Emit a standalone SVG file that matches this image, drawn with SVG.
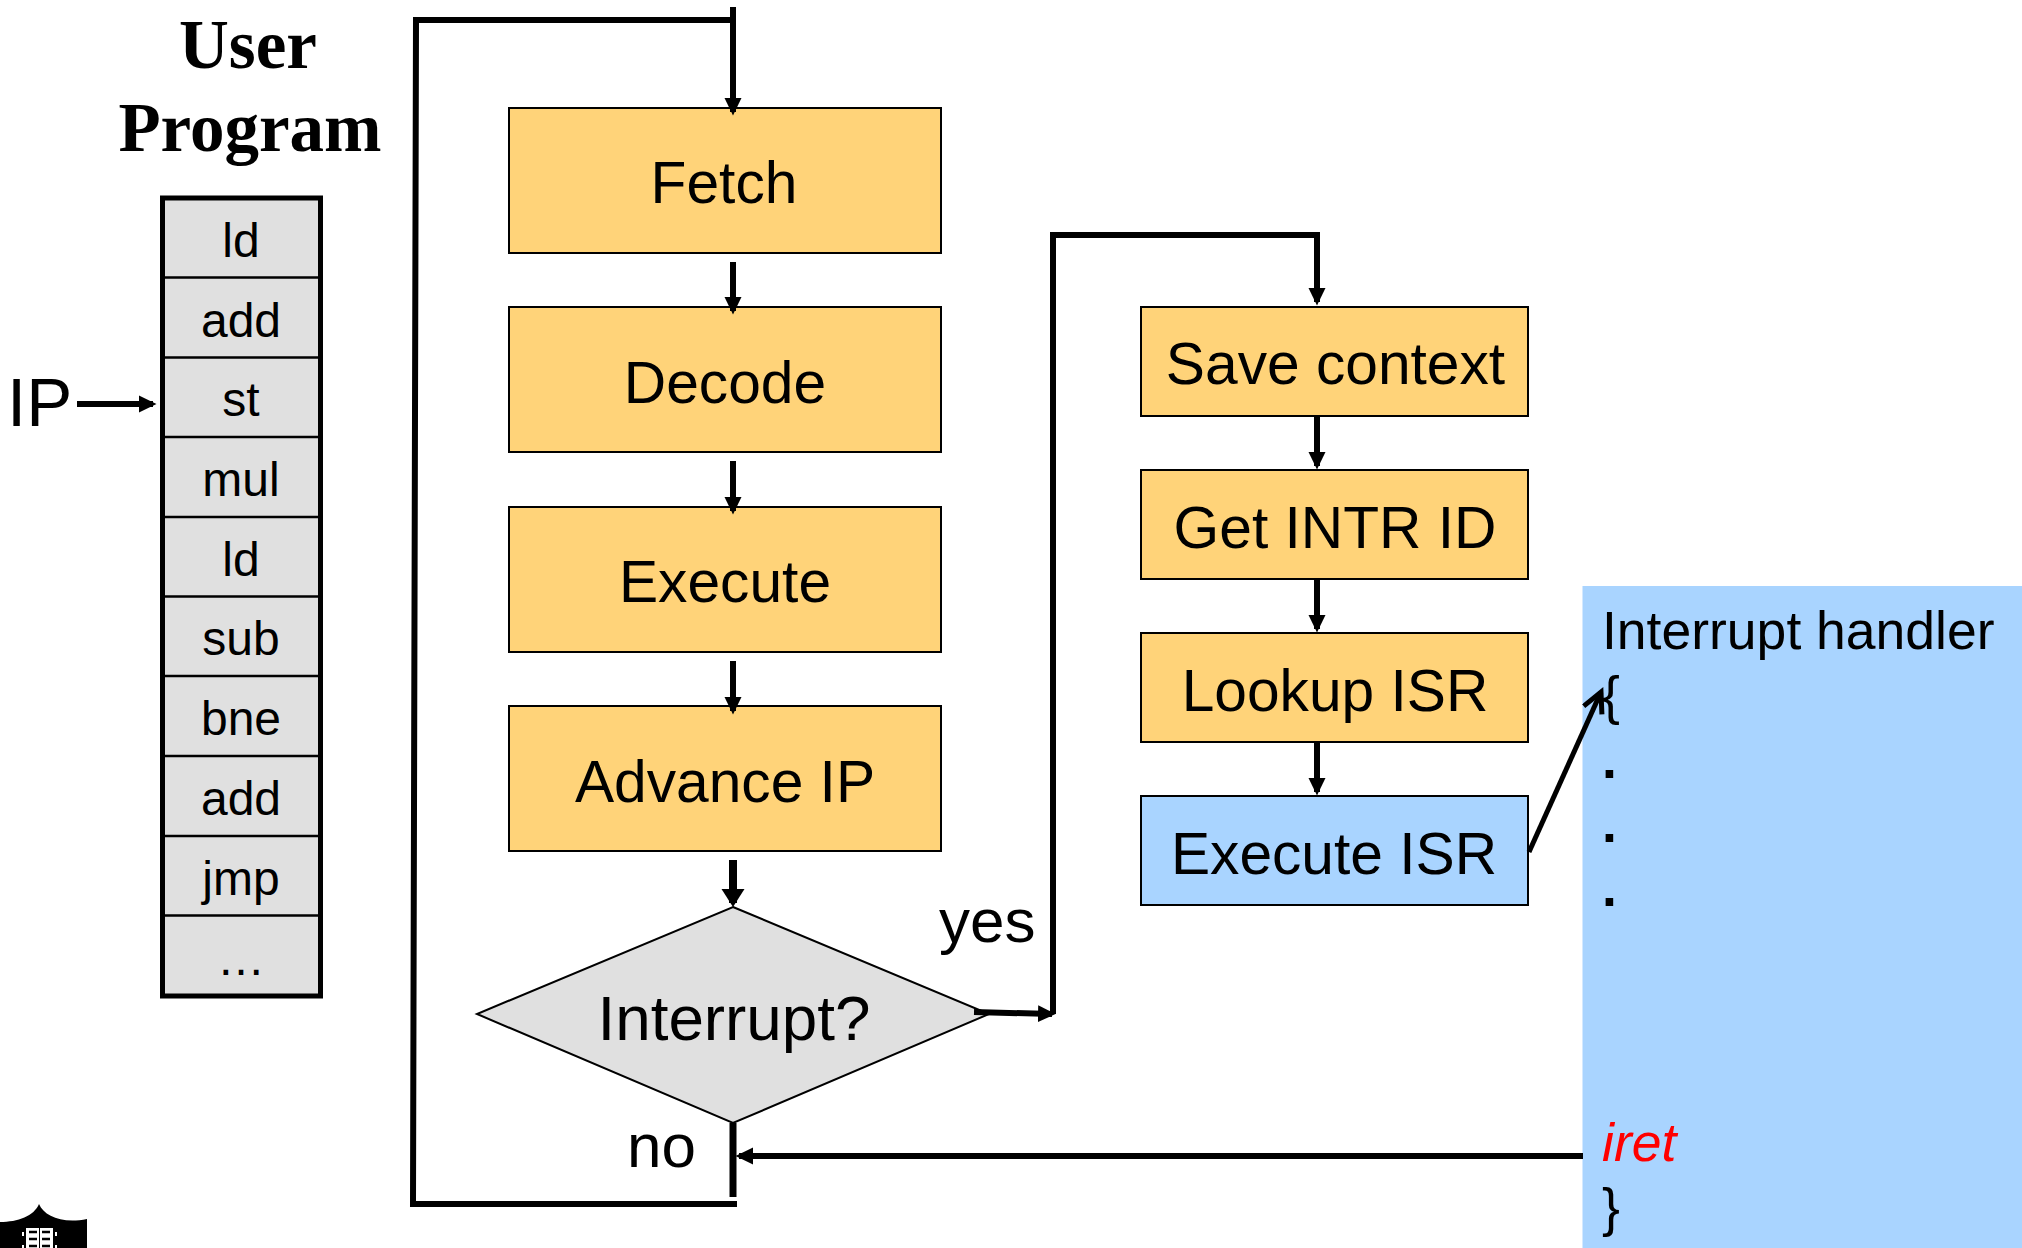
<svg xmlns="http://www.w3.org/2000/svg" width="2022" height="1248" viewBox="0 0 2022 1248">
<style>
text{font-family:"Liberation Sans",Arial,sans-serif;fill:#000}
.t58{font-size:58.700px;text-anchor:middle}
.t48{font-size:48px;text-anchor:middle}
.t52{font-size:53.500px}
.lab{font-size:62px}
.ttl{font-family:"Liberation Serif","Times New Roman",serif;font-weight:bold;font-size:69px;text-anchor:middle}
.orange{fill:#ffd379;stroke:#000;stroke-width:2}
.blue{fill:#a9d4ff;stroke:#000;stroke-width:2}
.gray{fill:#e0e0e0;stroke:#000;stroke-width:2}
.c{fill:none;stroke:#000;stroke-width:6}
</style>
<defs>
<marker id="h" markerUnits="userSpaceOnUse" markerWidth="18" markerHeight="18" refX="14" refY="9" orient="auto"><path d="M0,0.5L17.5,9L0,17.5z" fill="#000"/></marker>
<marker id="hb" markerUnits="userSpaceOnUse" markerWidth="24" markerHeight="24" refX="14" refY="12" orient="auto"><path d="M0,0.5L18,12L0,23.5z" fill="#000"/></marker>
<marker id="o" markerUnits="userSpaceOnUse" markerWidth="30" markerHeight="30" refX="22" refY="12" orient="auto"><path d="M2,2L22,12L2,22" fill="none" stroke="#000" stroke-width="5"/></marker>
</defs>

<g id="logo">
<path d="M0,1222C18,1222 34,1216 39,1204C44,1216 62,1224 87,1219V1248H0z" fill="#000"/>
<rect x="26" y="1228" width="27" height="20" fill="#fff"/>
<path d="M29,1232h8M42,1232h8M29,1239h8M42,1239h8M29,1246h8M42,1246h8" stroke="#000" stroke-width="2.500" fill="none"/>
<path d="M39.500,1228v20" stroke="#000" stroke-width="1"/>
<path d="M23,1232v4M23,1245v3M56,1232v4M56,1245v3" stroke="#fff" stroke-width="2" fill="none"/>
</g>

<g id="title"><text class="ttl" x="248" y="68">User</text><text class="ttl" x="250" y="151">Program</text></g>

<g id="program">
<rect x="162.500" y="198" width="158" height="798" fill="#e0e0e0"/>
<path d="M162,277.500H321M162,357.500H321M162,437H321M162,517H321M162,596.500H321M162,676H321M162,756H321M162,836H321M162,915.500H321" stroke="#000" stroke-width="2.500" fill="none"/>
<rect x="162.500" y="198" width="158" height="798" fill="none" stroke="#000" stroke-width="5"/>
<text class="t48" x="241" y="257">ld</text><text class="t48" x="241" y="337">add</text><text class="t48" x="241" y="416">st</text><text class="t48" x="241" y="496">mul</text><text class="t48" x="241" y="576">ld</text><text class="t48" x="241" y="655">sub</text><text class="t48" x="241" y="735">bne</text><text class="t48" x="241" y="815">add</text><text class="t48" x="241" y="895">jmp</text><text class="t48" x="241" y="975">…</text>
</g>
<g id="ip"><text x="7" y="426" style="font-size:69px">IP</text></g>

<g id="fetch"><rect class="orange" x="509" y="108" width="432" height="145"/><text class="t58" x="724" y="203">Fetch</text></g>
<g id="decode"><rect class="orange" x="509" y="307" width="432" height="145"/><text class="t58" x="725" y="403">Decode</text></g>
<g id="execute"><rect class="orange" x="509" y="507" width="432" height="145"/><text class="t58" x="725" y="602">Execute</text></g>
<g id="advance"><rect class="orange" x="509" y="706" width="432" height="145"/><text class="t58" x="725" y="802">Advance IP</text></g>
<g id="interrupt"><path class="gray" d="M733,907L989,1014L733,1123L477,1014z"/><text x="734" y="1040" style="font-size:63.800px;text-anchor:middle">Interrupt?</text></g>
<g id="save"><rect class="orange" x="1141" y="307" width="387" height="109"/><text class="t58" x="1335.500" y="384">Save context</text></g>
<g id="getintr"><rect class="orange" x="1141" y="470" width="387" height="109"/><text class="t58" x="1335" y="548">Get INTR ID</text></g>
<g id="lookup"><rect class="orange" x="1141" y="633" width="387" height="109"/><text class="t58" x="1335" y="711">Lookup ISR</text></g>
<g id="executeisr"><rect class="blue" x="1141" y="796" width="387" height="109"/><text class="t58" x="1334" y="874">Execute ISR</text></g>

<g id="handler">
<rect x="1582.500" y="586" width="439.500" height="662" fill="#a9d4ff"/>
<text class="t52" x="1602" y="649">Interrupt handler</text>
<text class="t52" x="1602" y="714">{</text>
<text class="t52" x="1602" y="778" font-weight="bold">.</text>
<text class="t52" x="1602" y="842" font-weight="bold">.</text>
<text class="t52" x="1602" y="906" font-weight="bold">.</text>
<text class="t52" x="1602" y="1161" font-style="italic" style="fill:#f00">iret</text>
<text class="t52" x="1602" y="1226">}</text>
</g>

<g id="connectors">
<path class="c" d="M733,7V112" marker-end="url(#h)"/>
<path class="c" d="M733,262V311" marker-end="url(#h)"/>
<path class="c" d="M733,461V511" marker-end="url(#h)"/>
<path class="c" d="M733,661V711" marker-end="url(#h)"/>
<path class="c" d="M733,860V903" style="stroke-width:8" marker-end="url(#hb)"/>
<path class="c" d="M77,404H153" marker-end="url(#h)"/>
<path class="c" d="M1317,416V466" marker-end="url(#h)"/>
<path class="c" d="M1317,579V629" marker-end="url(#h)"/>
<path class="c" d="M1317,742V792" marker-end="url(#h)"/>
<path class="c" d="M974,1012L1052,1014" marker-end="url(#h)"/>
<path class="c" d="M1053,1014V235H1317V302" marker-end="url(#h)"/>
<path class="c" d="M1583,1156H739" marker-end="url(#h)"/>
<path class="c" style="stroke-width:5" d="M1529,852L1601,692" marker-end="url(#o)"/>
<path class="c" style="stroke-width:7" d="M733,1123V1197"/>
<path class="c" d="M737,1204H413L416,20H736"/>
<text class="lab" x="939" y="942">yes</text>
<text class="lab" x="627" y="1167">no</text>
</g>
</svg>
